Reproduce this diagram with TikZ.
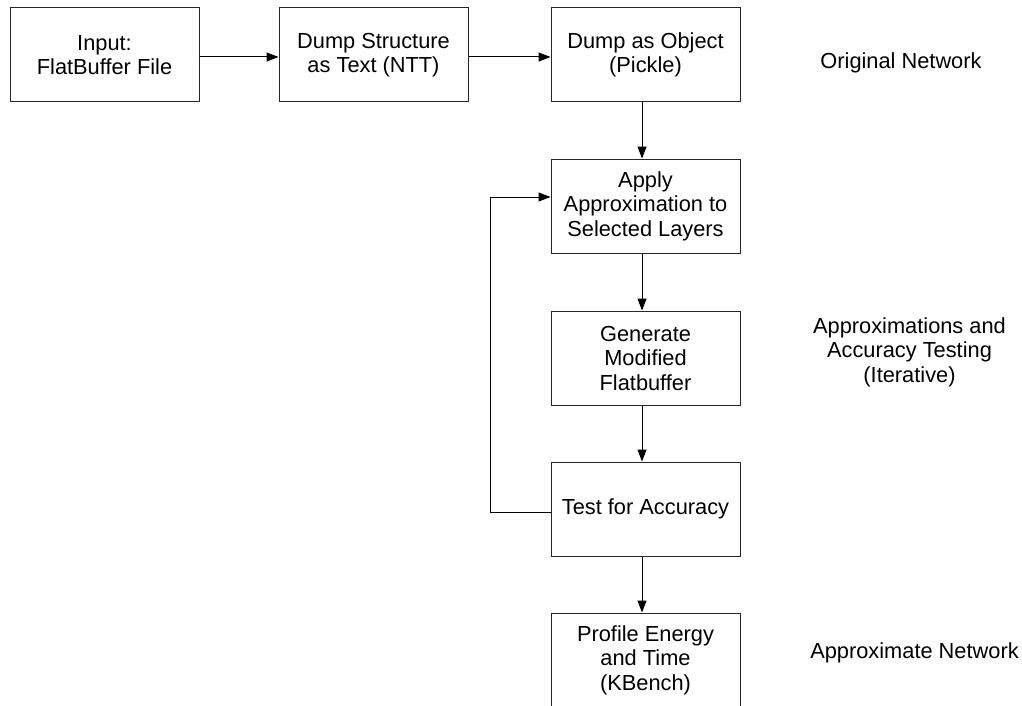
\documentclass[tikz,border=0pt]{standalone}
\usepackage{fontspec}
\setmainfont{Liberation Sans}
\usetikzlibrary{arrows.meta}
\begin{document}
\begin{tikzpicture}[x=1pt,y=-1pt,
  font=\fontsize{21.8}{24.5}\selectfont,
  stepbox/.style={draw=black!85,line width=1pt,minimum width=189pt,minimum height=94pt,
    align=center,inner sep=0pt},
  label/.style={align=center,inner sep=0pt},
  arr/.style={draw=black,line width=1pt,-{Triangle[length=12pt,width=9pt]}}]
\clip (0,0) rectangle (1022,706);
\fill[white] (0,0) rectangle (1022,706);
\node[stepbox] (inp) at (104.5,55) {Input:\\FlatBuffer File};
\node[stepbox] (ntt) at (373.5,55) {Dump Structure\\as Text (NTT)};
\node[stepbox] (obj) at (645.5,55) {Dump as Object\\(Pickle)};
\node[stepbox] (apply) at (645.5,206) {Apply\\Approximation to\\Selected Layers};
\node[stepbox] (gen) at (645.5,358) {Generate\\Modified\\Flatbuffer};
\node[stepbox] (test) at (645.5,509) {Test for Accuracy};
\node[stepbox] (prof) at (645.5,660) {Profile Energy\\and Time\\(KBench)};
\node[label] (l1) at (901,63) {Original Network};
\node[label] (l2) at (909.5,352) {Approximations and\\Accuracy Testing\\(Iterative)};
\node[label] (l3) at (914.5,653) {Approximate Network};
\draw[arr] ([yshift=-2pt]inp.east) -- ([yshift=-2pt]ntt.west);
\draw[arr] ([yshift=-2pt]ntt.east) -- ([yshift=-2pt]obj.west);
\draw[arr] ([xshift=-3.5pt]obj.south) -- ([xshift=-3.5pt]apply.north);
\draw[arr] ([xshift=-3.5pt]apply.south) -- ([xshift=-3.5pt]gen.north);
\draw[arr] ([xshift=-3.5pt]gen.south) -- ([xshift=-3.5pt]test.north);
\draw[arr] ([xshift=-3.5pt]test.south) -- ([xshift=-3.5pt]prof.north);
\draw[arr] ([yshift=-3pt]test.west) -- ++(-60,0) |- ([yshift=9pt]apply.west);
\end{tikzpicture}
\end{document}
